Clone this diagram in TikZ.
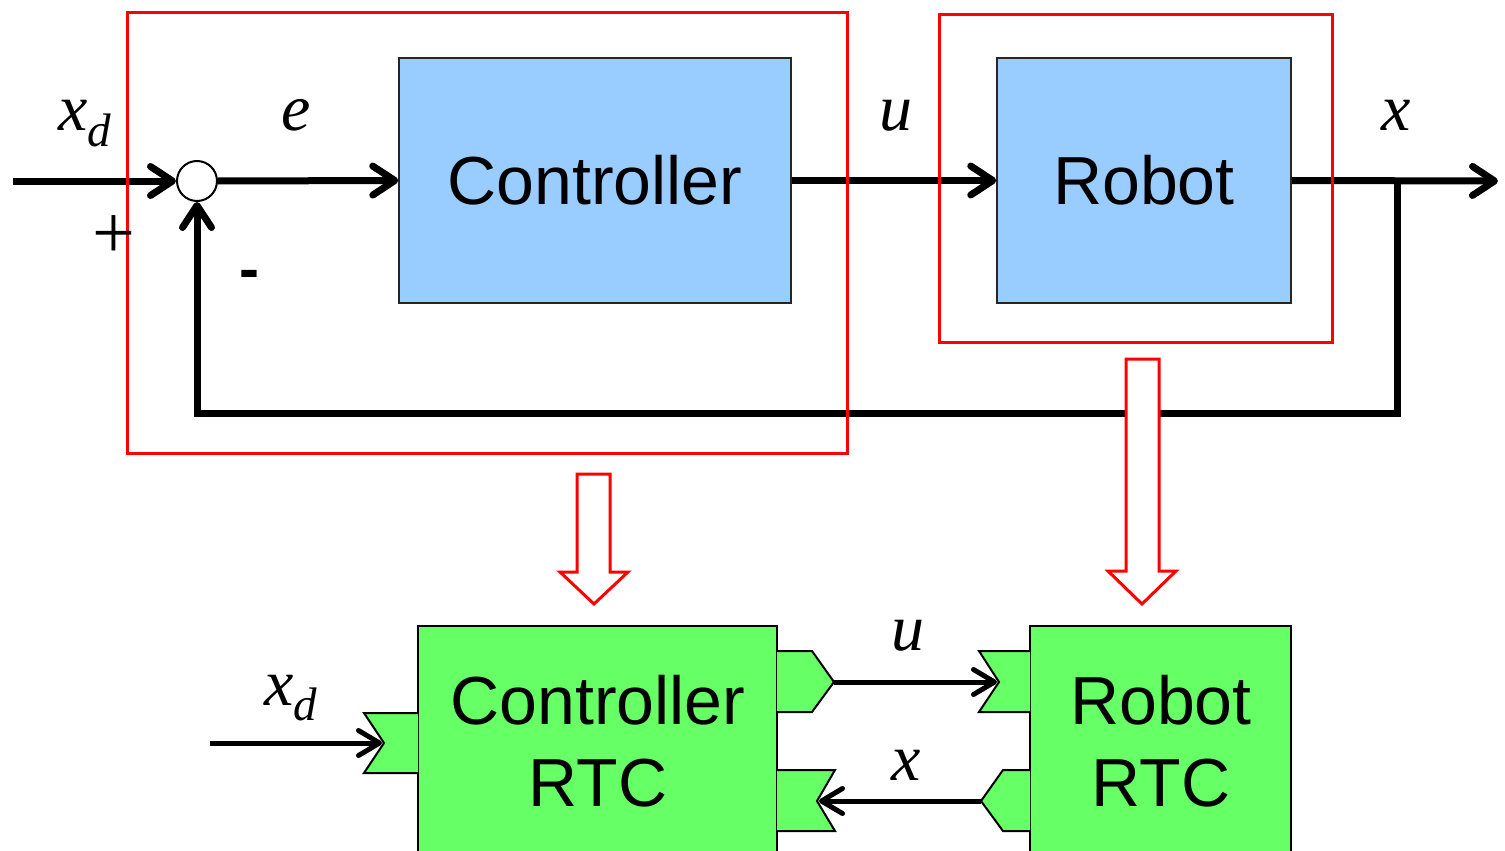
\documentclass[tikz,border=0pt]{standalone}
\usepackage{fontspec}
\setmainfont{Liberation Serif}
\setsansfont{Liberation Sans}
\usetikzlibrary{arrows.meta}
\definecolor{boxblue}{HTML}{99CCFF}
\definecolor{rtcgreen}{HTML}{66FF66}
\begin{document}
\begin{tikzpicture}[x=1pt,y=-1pt,
  block/.style={draw=black!85, line width=1.5pt, fill=boxblue, inner sep=0pt,
    font=\sffamily\fontsize{68}{68}\selectfont},
  rtcbox/.style={draw=black, line width=2pt, fill=rtcgreen, inner sep=0pt},
  rtctext/.style={anchor=base, inner sep=0pt, font=\sffamily\fontsize{68}{68}\selectfont},
  port/.style={draw=black, line width=2pt, fill=rtcgreen, line join=miter},
  frame/.style={draw=red, line width=3pt},
  hollow/.style={draw=red, line width=3pt, fill=white, line join=miter},
  sig/.style={line width=7pt, -{Straight Barb[length=22pt,width=29pt,round]}},
  bsig/.style={line width=5pt, -{Straight Barb[length=21pt,width=25pt,round]}},
  lbl/.style={inner sep=0pt, anchor=base west, font=\fontsize{66}{66}\selectfont\itshape},
]
\useasboundingbox (0,0) rectangle (1505,851);

% ---------- control loop ----------
\node[block, minimum width=392pt, minimum height=245pt] (ctrl) at (595,180.5) {Controller};
\node[block, minimum width=294pt, minimum height=245pt] (robot) at (1144,180.5) {Robot};
\node[circle, draw=black, line width=2pt, fill=white, minimum size=40pt, inner sep=0pt] (sum) at (197,181) {};

\coordinate (xin) at (13,181);
\coordinate (split) at (1397,181);
\coordinate (fbcorner) at (1397,413);
\coordinate (xout) at (1498,181);

\draw[sig] (xin) -- (sum.west);
\draw[sig] (sum.east) -- (ctrl.west);
\draw[sig] (ctrl.east) -- (robot.west);
\draw[sig] (robot.east) -- (xout);
\draw[sig] (split) -- (fbcorner) -| (sum.south);

% frames around the two blocks
\draw[frame] (127,13) rectangle (847,453);
\draw[frame] (939,15) rectangle (1332,342);

% loop labels
\node[lbl] (lxd) at (58,130) {x\raisebox{-17pt}{\fontsize{47}{47}\selectfont d}};
\node[lbl] (le) at (281,130) {e};
\node[lbl] (lu) at (879,130) {u};
\node[lbl] (lx) at (1381,130) {x};
\node[inner sep=0pt, font=\fontsize{76}{76}\selectfont] (lplus) at (114,237) {+};
\node[inner sep=0pt, font=\sffamily\bfseries\fontsize{60}{60}\selectfont] (lminus) at (249,280) {-};

% ---------- RT components ----------
\node[rtcbox, minimum width=359pt, minimum height=244pt] (crtc) at (597.5,748) {};
\node[rtcbox, minimum width=261pt, minimum height=244pt] (rrtc) at (1160.5,748) {};
\node[rtctext] (crtc1) at (598,724) {Controller};
\node[rtctext] (crtc2) at (598,806) {RTC};
\node[rtctext] (rrtc1) at (1161,724) {Robot};
\node[rtctext] (rrtc2) at (1161,806) {RTC};

% data ports
\draw[port] (418,713) -- (364,713) -- (384,743) -- (364,773) -- (418,773);
\draw[port] (777,651) -- (812,651) -- (834,682) -- (812,712) -- (777,712);
\draw[port] (777,770) -- (835,770) -- (817,801) -- (835,831) -- (777,831);
\draw[port] (1030,651) -- (979,651) -- (999,682) -- (979,712) -- (1030,712);
\draw[port] (1030,770) -- (1003,770) -- (981,801) -- (1003,831) -- (1030,831);

\coordinate (xdsrc) at (210,743);
\coordinate (cxdin) at (382,743);
\coordinate (cuout) at (834,682);
\coordinate (ruin) at (997,682);
\coordinate (rxout) at (981,801);
\coordinate (cxin) at (819,801);

\draw[bsig] (xdsrc) -- (cxdin);
\draw[bsig] (cuout) -- (ruin);
\draw[bsig] (rxout) -- (cxin);

\node[lbl] (bxd) at (264,705) {x\raisebox{-15pt}{\fontsize{47}{47}\selectfont d}};
\node[lbl] (bu) at (891,650) {u};
\node[lbl] (bx) at (891,780) {x};

% mapping arrows
\draw[hollow] (577,474) -- (610,474) -- (610,572) -- (628,572) -- (594,604)
  -- (560,572) -- (577,572) -- cycle;
\draw[hollow] (1126,359) -- (1159,359) -- (1159,571) -- (1176,571) -- (1142,604)
  -- (1108,571) -- (1126,571) -- cycle;
\end{tikzpicture}
\end{document}
